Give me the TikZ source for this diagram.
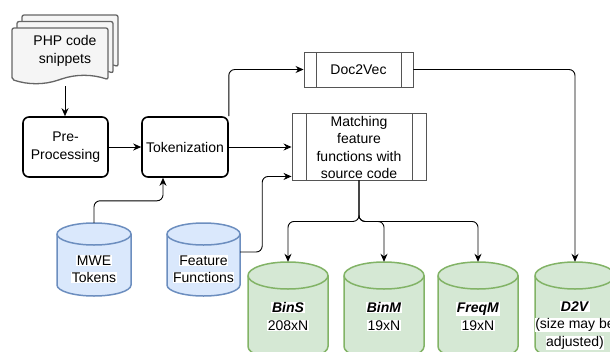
\documentclass[tikz,border=0pt]{standalone}
\usepackage{fontspec}
\setmainfont{Liberation Sans}
\usetikzlibrary{arrows.meta,calc}
\definecolor{docfill}{HTML}{F5F5F5}
\definecolor{docline}{HTML}{666666}
\definecolor{bluefill}{HTML}{DAE8FC}
\definecolor{blueline}{HTML}{6C8EBF}
\definecolor{greenfill}{HTML}{D5E8D4}
\definecolor{greenline}{HTML}{82B366}
\definecolor{procline}{HTML}{555555}

% white label background behind one line of text
\newcommand\wb[1]{{\setlength\fboxsep{0.6pt}\colorbox{white}{#1}}}

% cylinder: left, right, top, bottom, radius of the end ellipses, style
\newcommand\cylinderat[6]{%
  \pgfmathsetmacro\crx{(#2-#1)/2}%
  \path[#6] (#1,#3-#5) -- (#1,#4+#5)
     arc[start angle=180,end angle=360,x radius=\crx,y radius=#5]
     -- (#2,#3-#5)
     arc[start angle=0,end angle=180,x radius=\crx,y radius=#5] -- cycle;
  \draw[#6,fill=none] (#1,#3-#5)
     arc[start angle=180,end angle=360,x radius=\crx,y radius=#5];
}

% one page of the stacked document symbol, placed by its top-left corner
\newcommand\docpage[2]{%
  \path[docpage,shift={(#1,#2)}] (0,-51.5) -- (0,0) -- (96,0) -- (96,-51.5)
     .. controls (80,-46.1) and (64,-46.1) .. (48,-51.5)
     .. controls (32,-56.9) and (16,-56.9) .. (0,-51.5) -- cycle;
}

\begin{document}
\begin{tikzpicture}[
  x=1pt, y=1pt,
  every node/.style={font=\fontsize{14}{17.5}\selectfont},
  docpage/.style={fill=docfill, draw=docline, line width=1.3pt, rounded corners=2pt},
  stepbox/.style={draw=black, line width=1.6pt, rounded corners=6pt, fill=white,
     align=center, inner sep=0pt},
  procbox/.style={draw=procline, line width=0.9pt, fill=white, inner sep=0pt,
     path picture={\draw[procline,line width=0.9pt]
       ([xshift=#1]path picture bounding box.north west) --
       ([xshift=#1]path picture bounding box.south west)
       ([xshift=-#1]path picture bounding box.north east) --
       ([xshift=-#1]path picture bounding box.south east);}},
  area/.style={inner sep=0pt, minimum width=#1},
  bluecyl/.style={fill=bluefill, draw=blueline, line width=1.5pt},
  greencyl/.style={fill=greenfill, draw=greenline, line width=1.5pt},
  conn/.style={draw=black, line width=0.9pt, rounded corners=6pt,
     -{Stealth[length=8pt,width=7pt]}},
]
\useasboundingbox (0,0) rectangle (610,-351);
\clip (0,0) rectangle (610,-351);

% stacked source documents
\docpage{22}{-15}
\docpage{17}{-21.5}
\docpage{12}{-28}
\node[align=center, inner sep=0pt, minimum height=70, minimum width=106] (php) at (65,-51)
  {PHP code\\snippets};

% processing steps
\node[stepbox, minimum width=85, minimum height=60] (pre) at (65.5,-147) {Pre-\\Processing};
\node[stepbox, minimum width=86, minimum height=60] (tok) at (185,-147) {Tokenization};

\node[procbox=12pt, minimum width=109, minimum height=35] (doc2vec) at (358.5,-69.5) {Doc2Vec};
\node[procbox=14pt, minimum width=134, minimum height=67] (match) at (359,-146.5) {};
\node[align=center, inner sep=0pt] (matchtext) at (359,-147.5)
  {Matching\\feature\\functions with\\source code};

% input stores
\cylinderat{57}{131}{-223}{-296}{11}{bluecyl}
\node[area=74, minimum height=73] (mwe) at (94,-259.5) {};
\node[align=center, inner sep=0pt] (mwetext) at (94,-269) {\wb{MWE}\\\wb{Tokens}};

\cylinderat{167}{240}{-223}{-296}{11}{bluecyl}
\node[area=73, minimum height=73] (ff) at (203.5,-259.5) {};
\node[align=center, inner sep=0pt] (fftext) at (203.5,-269) {\wb{Feature}\\\wb{Functions}};

% output stores
\cylinderat{248}{328}{-262}{-360}{13.5}{greencyl}
\node[area=80, minimum height=98] (bins) at (288,-311) {};
\node[align=center, inner sep=0pt] (binstext) at (288,-316.5)
  {\wb{\textbf{\textit{BinS}}}\\\wb{208xN}};

\cylinderat{344}{424}{-262}{-360}{13.5}{greencyl}
\node[area=80, minimum height=98] (binm) at (384,-311) {};
\node[align=center, inner sep=0pt] (binmtext) at (384,-316.5)
  {\wb{\textbf{\textit{BinM}}}\\\wb{19xN}};

\cylinderat{438}{518}{-262}{-360}{13.5}{greencyl}
\node[area=80, minimum height=98] (freqm) at (478,-311) {};
\node[align=center, inner sep=0pt] (freqmtext) at (478,-316.5)
  {\wb{\textbf{\textit{FreqM}}}\\\wb{19xN}};

\cylinderat{535}{615}{-262}{-360}{13.5}{greencyl}
\node[area=80, minimum height=98] (d2v) at (575,-311) {};
\node[align=center, inner sep=0pt] (d2vtext) at (575,-325.5)
  {\wb{\textbf{\textit{D2V}}}\\\wb{(size may be}\\\wb{adjusted)}};

% connector end points that are not node centres
\coordinate (tokin) at ($(tok.south)+(-22,0)$);
\coordinate (ffout) at ($(ff.east)+(0,7.5)$);
\coordinate (matchin) at ($(match.south west)+(0,4)$);

% connectors
\draw[conn] (php.south) -- (php.south |- pre.north);
\draw[conn] (pre.east) -- (tok.west);
\draw[conn] (tok.east) -- (tok.east -| match.west);
\draw[conn] (tok.north east) |- (doc2vec.west);
\draw[conn] (mwe.north) -- ++(0,22) -| (tokin);
\draw[conn] (ffout) -- ++(22,0) |- (matchin);
\draw[conn] (match.south) -- ++(0,-41) -| (bins.north);
\draw[conn] (match.south) -- ++(0,-41) -| (binm.north);
\draw[conn] (match.south) -- ++(0,-41) -| (freqm.north);
\draw[conn] (doc2vec.east) -| (d2v.north);
\end{tikzpicture}
\end{document}
